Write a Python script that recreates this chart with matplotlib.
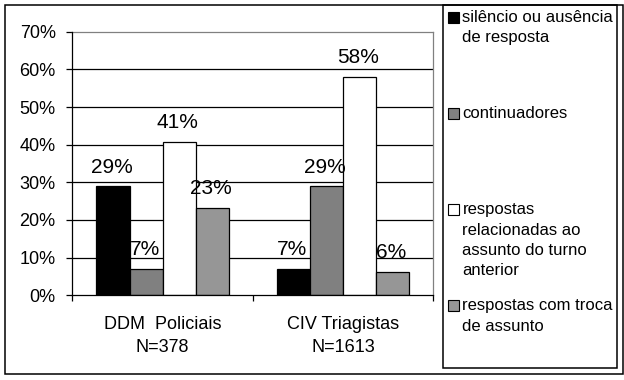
import matplotlib
matplotlib.use("Agg")
import matplotlib.pyplot as plt
from matplotlib.patches import Rectangle
import numpy as np

plt.rcParams['font.family'] = ['Liberation Sans', 'DejaVu Sans']

categories = ["DDM  Policiais\nN=378", "CIV Triagistas\nN=1613"]
series_names = ["silêncio ou ausência\nde resposta",
                "continuadores",
                "respostas\nrelacionadas ao\nassunto do turno\nanterior",
                "respostas com troca\nde assunto"]
values = [
    [28.9, 7.0],    # silêncio
    [6.9, 28.9],    # continuadores
    [40.7, 58.1],   # relacionadas
    [23.1, 6.1],    # troca de assunto
]
labels = [
    ["29%", "7%"],
    ["7%", "29%"],
    ["41%", "58%"],
    ["23%", "6%"],
]
colors = ["#000000", "#808080", "#ffffff", "#969696"]
yticks = [0, 10, 20, 30, 40, 50, 60, 70]

W, H = 624, 380
fig = plt.figure(figsize=(W / 100, H / 100), dpi=100)

def fx(px):
    return px / W

def fy(py):
    return 1 - py / H

# axes geometry
ax_l, ax_r, ax_t, ax_b = 72.3, 433.3, 31.7, 295.3
ax = fig.add_axes([fx(ax_l), fy(ax_b), fx(ax_r) - fx(ax_l), (ax_b - ax_t) / H])

x = np.arange(len(categories))
w = 0.183
for i, (vals, col) in enumerate(zip(values, colors)):
    pos = x + (i - 1.5) * w
    ax.bar(pos, vals, width=w, color=col, edgecolor="black", linewidth=0.9, zorder=3)
    for p, v, lab in zip(pos, vals, labels[i]):
        ax.annotate(lab, (p, v), xytext=(-1, 14), textcoords="offset points",
                    ha="center", va="center", fontsize=15, zorder=4)

ax.set_xlim(-0.5, 1.5)
ax.set_ylim(0, 70)
ax.set_yticks(yticks)
ax.set_yticklabels([f"{t}%" for t in yticks], fontsize=13)
ax.tick_params(axis="y", length=4, width=0.9, pad=8, color="black")

ax.set_xticks([-0.5, 0.5, 1.5])
ax.set_xticklabels([])
ax.tick_params(axis="x", which="major", length=4.5, width=0.9, color="black")
ax.set_xticks(x, minor=True)
ax.set_xticklabels(categories, minor=True, fontsize=13, linespacing=1.45)
ax.tick_params(axis="x", which="minor", length=0, pad=15)

for t in yticks[1:-1]:
    ax.axhline(t, color="black", linewidth=0.9, zorder=1)

ax.spines["left"].set_color("black")
ax.spines["bottom"].set_color("black")
ax.spines["left"].set_linewidth(0.9)
ax.spines["bottom"].set_linewidth(0.9)
ax.spines["top"].set_color("#808080")
ax.spines["right"].set_color("#808080")
ax.spines["top"].set_linewidth(0.9)
ax.spines["right"].set_linewidth(0.9)
ax.spines["left"].set_zorder(5)
ax.spines["bottom"].set_zorder(5)

# outer frame
fig.patches.append(Rectangle((fx(5), fy(374)), fx(623) - fx(5), (374 - 5) / H,
                             transform=fig.transFigure, fill=False,
                             edgecolor="black", linewidth=1.1))
# legend box
fig.patches.append(Rectangle((fx(443), fy(368)), fx(617) - fx(443), (368 - 5) / H,
                             transform=fig.transFigure, fill=False,
                             edgecolor="black", linewidth=1.1))

entry_y0 = 17.6
entry_step = 96.1
line_step = 20.3
for i, (name, col) in enumerate(zip(series_names, colors)):
    y0 = entry_y0 + i * entry_step
    fig.patches.append(Rectangle((fx(448.3), fy(y0 + 5.5)), 11 / W, 11 / H,
                                 transform=fig.transFigure, facecolor=col,
                                 edgecolor="black", linewidth=0.8))
    for k, line in enumerate(name.split("\n")):
        fig.text(fx(462.5), fy(y0 + k * line_step), line, fontsize=12,
                 ha="left", va="center")

fig.savefig("out.png", dpi=100)
